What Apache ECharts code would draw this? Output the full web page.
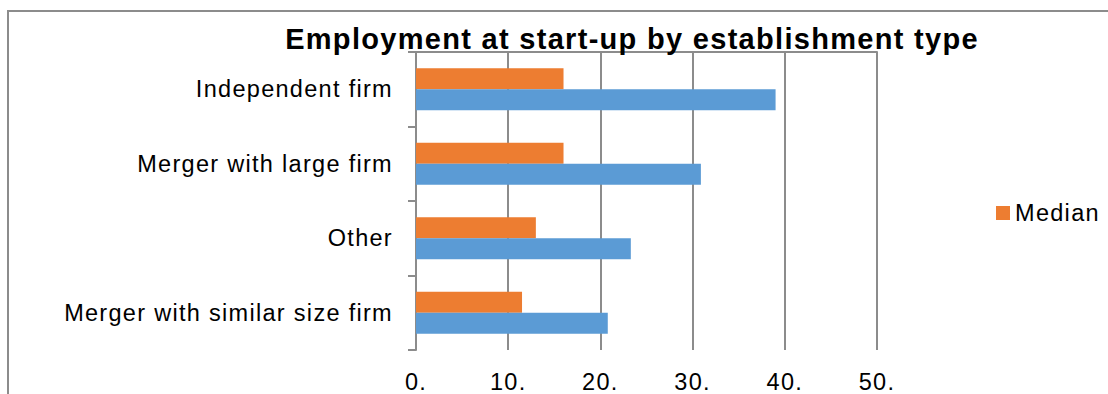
<!DOCTYPE html>
<html>
<head>
<meta charset="utf-8">
<script src="https://cdn.jsdelivr.net/npm/echarts@6/dist/echarts.min.js"></script>
<style>
html,body{margin:0;padding:0;background:#fff;}
#c{width:1108px;height:394px;}
#c svg text{letter-spacing:1.3px;}
</style>
</head>
<body>
<div id="c"></div>
<script>
var categories = ['Independent firm', 'Merger with large firm', 'Other', 'Merger with similar size firm'];
var medianValues = [16, 16, 13, 11.5];
var meanValues = [39, 30.9, 23.3, 20.8];
var xTicks = [0, 10, 20, 30, 40, 50];

var gray = '#8c8c8c';
var font = '"Liberation Sans", Arial, sans-serif';
var chart = echarts.init(document.getElementById('c'), null, {renderer: 'svg'});
chart.setOption({
  backgroundColor: '#fff',
  animation: false,
  title: {
    text: 'Employment at start-up by establishment type',
    left: 627, textAlign: 'center', top: 19,
    textStyle: {fontFamily: font, fontSize: 29, fontWeight: 'bold', color: '#000'}
  },
  legend: {
    data: ['Median'],
    left: 991, top: 196,
    itemWidth: 14, itemHeight: 14, icon: 'rect',
    textStyle: {fontFamily: font, fontSize: 23.5, color: '#000'}
  },
  graphic: [{
    type: 'rect', shape: {x: 8, y: 11, width: 1200, height: 500},
    style: {fill: 'none', stroke: gray, lineWidth: 2}, z: -1
  }],
  grid: {left: 416, top: 52, width: 461, height: 298, containLabel: false},
  xAxis: [{
    type: 'value', min: xTicks[0], max: xTicks[xTicks.length - 1], interval: 10,
    axisLine: {show: false}, axisTick: {show: false},
    splitLine: {show: true, lineStyle: {color: gray, width: 2}},
    axisLabel: {fontFamily: font, fontSize: 23.5, color: '#000', margin: 20,
      formatter: function (v) { return v + '.'; }}
  }, {
    type: 'value', position: 'top', min: 0, max: 50, interval: 10,
    axisLine: {show: true, lineStyle: {color: gray, width: 2}},
    axisTick: {show: false}, axisLabel: {show: false}, splitLine: {show: false}
  }],
  yAxis: {
    type: 'category', data: categories, inverse: true,
    axisLine: {show: true, lineStyle: {color: gray, width: 2}},
    axisTick: {show: true, length: 8, lineStyle: {color: gray, width: 2}},
    axisLabel: {fontFamily: font, fontSize: 23.5, color: '#000', margin: 23}
  },
  series: [{
    name: 'Median', type: 'bar', data: medianValues, barWidth: 21, barGap: '0%',
    itemStyle: {color: '#ED7D31'}
  }, {
    name: 'Mean', type: 'bar', data: meanValues, barWidth: 21, barGap: '0%',
    itemStyle: {color: '#5B9BD5'}
  }]
});
</script>
</body>
</html>
